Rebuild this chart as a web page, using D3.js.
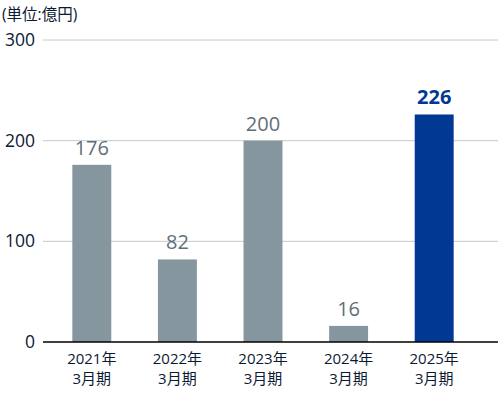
<!DOCTYPE html>
<html>
<head>
<meta charset="utf-8">
<script src="https://cdn.jsdelivr.net/npm/d3@7"></script>
<style>
  body { margin: 0; background: #fff; }
  text { font-family: "Open Sans", "Noto Sans CJK JP", sans-serif; }
</style>
</head>
<body>
<div class="chart"></div>
<script>
const years = ['2021年', '2022年', '2023年', '2024年', '2025年'];
const periods = ['3月期', '3月期', '3月期', '3月期', '3月期'];
const values = [176, 82, 200, 16, 226];
const yTicks = [0, 100, 200, 300];
const unitLabel = '(単位:億円)';

const fullWidth = 498;
const fullHeight = 395;
const margin = {top: 40, right: 0, bottom: 53, left: 43};
const height = fullHeight - margin.top - margin.bottom;

const svg = d3.select('.chart')
    .append('svg')
        .attr('width', fullWidth)
        .attr('height', fullHeight);

const yScale = d3.scaleLinear()
    .domain([0, 300])
    .range([margin.top + height, margin.top]);

const xScale = d3.scaleBand()
    .domain(years)
    .range([49, 477])
    .paddingInner(0.545)
    .paddingOuter(0.2725);

// gridlines
svg.append('g')
    .selectAll('line')
    .data(yTicks.filter(d => d > 0))
    .enter()
    .append('line')
        .attr('x1', margin.left)
        .attr('x2', fullWidth)
        .attr('y1', d => yScale(d))
        .attr('y2', d => yScale(d))
        .attr('stroke', '#c8c8c8')
        .attr('stroke-width', 1);

// y tick labels
svg.append('g')
    .selectAll('text')
    .data(yTicks)
    .enter()
    .append('text')
        .attr('x', 35)
        .attr('y', d => yScale(d) + 6)
        .attr('text-anchor', 'end')
        .attr('fill', '#0b1a33')
        .style('font-size', '17.5px')
        .text(d => d);

svg.append('text')
    .attr('x', 2)
    .attr('y', 20)
    .attr('fill', '#0b1a33')
    .style('font-size', '15.5px')
    .text(unitLabel);

// bars
svg.append('g')
    .selectAll('rect')
    .data(values)
    .enter()
    .append('rect')
        .attr('x', (d, i) => xScale(years[i]))
        .attr('y', d => yScale(d))
        .attr('width', xScale.bandwidth())
        .attr('height', d => yScale(0) - yScale(d))
        .attr('fill', (d, i) => i === values.length - 1 ? '#003893' : '#86969f');

// value labels
svg.append('g')
    .selectAll('text')
    .data(values)
    .enter()
    .append('text')
        .attr('x', (d, i) => xScale(years[i]) + xScale.bandwidth() / 2)
        .attr('y', d => yScale(d) - 10)
        .attr('text-anchor', 'middle')
        .attr('fill', (d, i) => i === values.length - 1 ? '#003893' : '#5f6f7a')
        .style('font-size', '20px')
        .style('font-weight', (d, i) => i === values.length - 1 ? 'bold' : 'normal')
        .text(d => d);

// baseline
svg.append('line')
    .attr('x1', margin.left)
    .attr('x2', fullWidth)
    .attr('y1', yScale(0))
    .attr('y2', yScale(0))
    .attr('stroke', '#000')
    .attr('stroke-width', 1.5);

// x labels
const xLabels = svg.append('g')
    .selectAll('text')
    .data(years)
    .enter()
    .append('text')
        .attr('text-anchor', 'middle')
        .attr('fill', '#0b1a33')
        .style('font-size', '15px');

xLabels.append('tspan')
    .attr('x', d => xScale(d) + xScale.bandwidth() / 2)
    .attr('y', 364)
    .text(d => d);

xLabels.append('tspan')
    .attr('x', d => xScale(d) + xScale.bandwidth() / 2)
    .attr('y', 384)
    .text((d, i) => periods[i]);
</script>
</body>
</html>
